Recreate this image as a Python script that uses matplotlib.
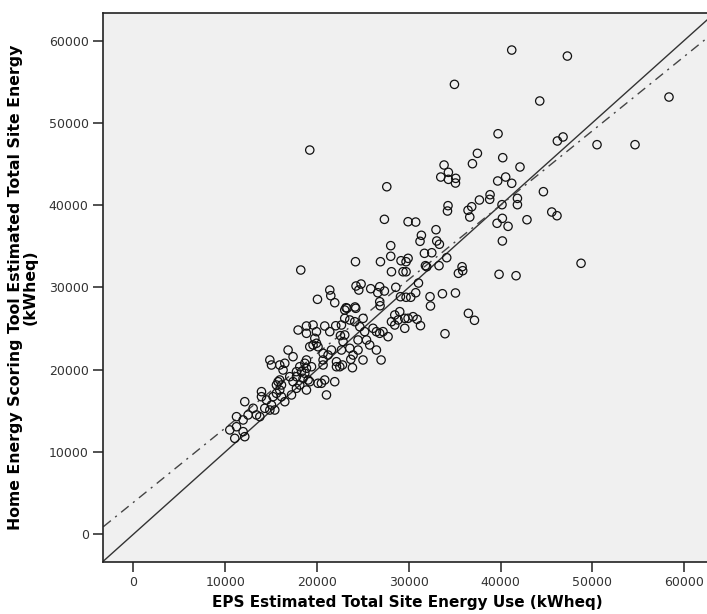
import matplotlib
matplotlib.use("Agg")
import matplotlib.pyplot as plt
import numpy as np

# EPS estimate (x) vs Home Energy Scoring Tool estimate (y), kWheq
eps_kwh = [
    41220, 47280, 34980, 44270, 58350, 39730, 46190, 46810, 50510, 54650,
    37480, 36940, 40240, 42120, 33850, 33490, 34320, 34320, 35120, 35090,
    39690, 40560, 41220, 27610, 44670, 38860, 38820, 37700, 41840, 41840,
    40160, 34280, 34220, 36460, 36860, 36650, 45580, 46150, 27350, 29930,
    30760, 39620, 40200, 40820, 42880, 32970, 31380, 31230, 33050, 33340,
    40200, 28040, 24200, 26920, 28040, 29160, 29930, 29710, 31710, 32510,
    34140, 33300, 31820, 31960, 31060, 28120, 29380, 29710, 35810, 35880,
    35410, 39840, 41690, 48770, 24260, 24810, 24560, 25860, 26840, 26630,
    27350, 26840, 26880, 28590, 29100, 29710, 30220, 30760, 32320, 32370,
    33670, 35090, 23170, 24150,
    23030, 23280, 24230, 23030, 22670, 23580, 24120, 24670, 25030, 25200,
    26110, 26480, 26840, 27200, 27750, 28480, 28840, 29020, 29570, 29570,
    29930, 30470, 28120, 28480, 24480, 25400, 25750, 26480, 23580, 24480,
    23940, 22670, 36500, 37160, 33950, 30910, 31280, 26990, 25020, 23870,
    23690, 22780, 22490, 23030, 22560, 22850,
    19220, 18240, 20060, 21400, 21510, 21940, 18860, 19580, 20850, 22050,
    10510, 11240, 11050, 12140, 11960, 11240, 11960, 12140, 13050, 13420,
    13780, 12500, 13960, 13960, 14510, 15050, 15410, 14870, 14320, 15220,
    15590, 15950, 16500, 16140, 15770, 15590, 16140, 15950, 14870, 15050,
    15950, 16500, 16310, 16860, 17400, 17040, 17400, 17230, 17770, 18130,
    17770, 17770, 18320, 18680, 18490, 18860, 19040, 18860, 19220, 18130,
    18860, 18680, 19410, 20120, 20490, 20850, 21040, 21940, 19950, 19770,
    20670, 20670, 20670, 21210, 22130, 22130, 21400, 19950, 18860, 17950,
    20120, 19220, 19580, 21580,
]
hes_kwh = [
    58840, 58110, 54670, 52650, 53130, 48670, 47790, 48280, 47340, 47340,
    46290, 45030, 45760, 44630, 44870, 43410, 43980, 43130, 43250, 42680,
    42930, 43410, 42650, 42230, 41630, 41260, 40700, 40620, 40820, 40050,
    40050, 39930, 39280, 39370, 39800, 38550, 39160, 38710, 38270, 37980,
    37940, 37790, 38390, 37420, 38220, 37010, 36330, 35600, 35640, 35240,
    35640, 35070, 33120, 33120, 33780, 33240, 33530, 33120, 34140, 34210,
    33610, 32640, 32640, 32510, 30530, 31900, 31900, 31900, 32510, 32030,
    31710, 31590, 31420, 32930, 30170, 30410, 29680, 29840, 30080, 29350,
    29560, 28260, 27770, 30010, 28870, 28800, 28800, 29350, 28870, 27740,
    29230, 29320, 27530, 27620,
    27250, 27460, 27460, 26240, 25430, 26040, 25830, 25220, 26240, 24620,
    25030, 24620, 24420, 24620, 24010, 26650, 26040, 27050, 26240, 25030,
    26240, 26440, 25830, 25430, 23610, 23610, 23000, 22390, 22600, 22390,
    21780, 22390, 26850, 26000, 24370, 26120, 25350, 21180, 21180, 20240,
    21260, 20570, 20360, 24220, 24140, 23410,
    46690, 32110, 28550, 29680, 28990, 28140, 25310, 25430, 25310, 25340,
    12680, 13070, 11660, 11860, 12470, 14290, 13890, 16110, 15310, 14500,
    14290, 14500, 17330, 16720, 16320, 15710, 15100, 15100, 15310, 16720,
    17130, 17530, 16110, 16720, 18540, 18140, 18140, 18750, 21180, 20570,
    20570, 20780, 19960, 22390, 21580, 19150, 18540, 16930, 17740, 18140,
    19760, 19150, 19760, 19560, 18950, 20170, 18750, 17530, 18540, 20360,
    21180, 20780, 20360, 18350, 18350, 18750, 16930, 18540, 23210, 23810,
    21990, 21180, 20570, 21780, 20970, 20360, 24620, 24620, 24420, 24820,
    22790, 22790, 23000, 22390,
]

# fitted line (dash-dot) and the y = x reference (solid)
fit_intercept = 3870
fit_slope = 0.903

x_ticks = [0, 10000, 20000, 30000, 40000, 50000, 60000]
y_ticks = [0, 10000, 20000, 30000, 40000, 50000, 60000]

fig = plt.figure(figsize=(7.07, 6.14), dpi=100)
ax = fig.add_axes([0.1461, 0.0852, 0.86, 0.8936])
ax.set_facecolor('#f0f0f0')

ax.axline((0, 0), slope=1, color='#333333', lw=1.0, zorder=2)
ax.axline((0, fit_intercept), slope=fit_slope, color='#444444', lw=1.0,
          dashes=(7, 4, 1.5, 4), zorder=2)
ax.scatter(eps_kwh, hes_kwh, s=36, facecolors='none', edgecolors='#111111',
           linewidths=0.9, zorder=3)

ax.set_xlim(-3270, 62960)
ax.set_ylim(-3330, 63340)
ax.set_xticks(x_ticks)
ax.set_yticks(y_ticks)
ax.tick_params(direction='out', length=7, width=1.2, color='#333333',
               labelsize=9, labelcolor='#333333')

for side in ['left', 'bottom', 'top']:
    ax.spines[side].set_color('#222222')
    ax.spines[side].set_linewidth(1.2)
ax.spines['right'].set_visible(False)

ax.set_xlabel('EPS Estimated Total Site Energy Use (kWheq)', fontsize=11,
              fontweight='bold', labelpad=4)
ax.set_ylabel('Home Energy Scoring Tool Estimated Total Site Energy\n(kWheq)',
              fontsize=11.3, fontweight='bold', labelpad=8, linespacing=1.0)

fig.savefig('out.png', dpi=100)
